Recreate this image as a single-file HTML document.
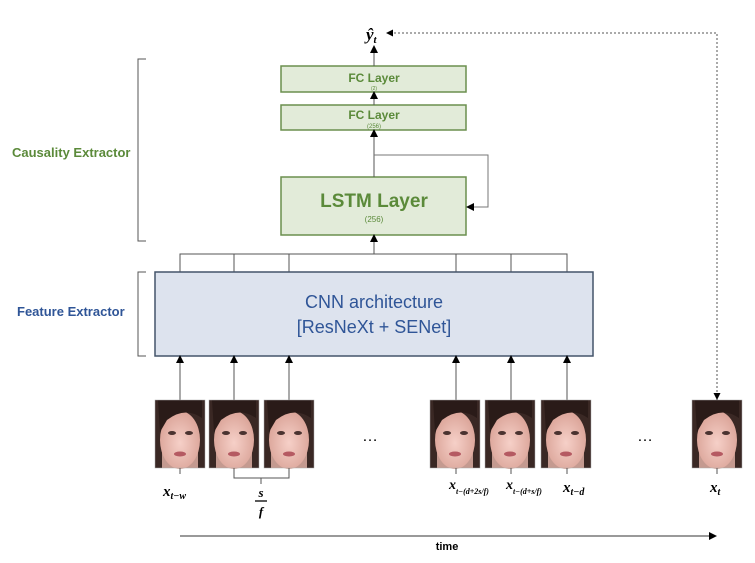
<!DOCTYPE html>
<html><head><meta charset="utf-8"><style>
body{margin:0;background:#fff;}
svg{display:block;font-family:"Liberation Sans",sans-serif;}
</style></head><body>
<svg width="755" height="563" viewBox="0 0 755 563" xmlns="http://www.w3.org/2000/svg">
<defs>
<marker id="ah" markerWidth="8" markerHeight="8" refX="7" refY="4" orient="auto" markerUnits="userSpaceOnUse"><path d="M0,0 L8,4 L0,8 z" fill="#000"/></marker>
<radialGradient id="skin" cx="50%" cy="55%" r="60%"><stop offset="0" stop-color="#f6d0c8"/><stop offset="1" stop-color="#d8a094"/></radialGradient>
<g id="face">
<rect x="0" y="0" width="50" height="68" fill="#c49a90"/>
<rect x="0" y="0" width="50" height="30" fill="#3a2824"/>
<rect x="0" y="0" width="7" height="68" fill="#3a2824"/>
<rect x="43" y="0" width="7" height="68" fill="#3a2824"/>
<ellipse cx="25" cy="40" rx="20" ry="29" fill="url(#skin)"/>
<path d="M3,0 H47 V18 Q30,6 12,20 L5,32 Z" fill="#2a1b18"/>
<ellipse cx="17" cy="33" rx="4" ry="2" fill="#4a3330"/>
<ellipse cx="34" cy="33" rx="4" ry="2" fill="#4a3330"/>
<ellipse cx="25" cy="54" rx="6" ry="2.5" fill="#b55a62"/>
<rect x="0" y="0" width="50" height="68" fill="none" stroke="#aaa" stroke-width="0.5"/>
</g>
</defs>
<path d="M146,59 H138 V241 H146" fill="none" stroke="#555" stroke-width="1"/>
<path d="M146,272 H138 V356 H146" fill="none" stroke="#555" stroke-width="1"/>
<text x="12" y="157" font-size="13" font-weight="bold" fill="#5b8a3a">Causality Extractor</text>
<text x="17" y="316" font-size="13" font-weight="bold" fill="#2f5597">Feature Extractor</text>
<text x="366" y="40" font-family="Liberation Serif,serif" font-size="17" font-weight="bold" font-style="italic">ŷ<tspan font-size="11" dy="3">t</tspan></text>
<rect x="281" y="66" width="185" height="26" fill="#e2ebd9" stroke="#6b8f4e" stroke-width="1.5"/>
<text x="374" y="82" font-size="12" font-weight="bold" fill="#5b8a3a" text-anchor="middle">FC Layer</text>
<text x="374" y="90" font-size="5" fill="#5b8a3a" text-anchor="middle">(2)</text>
<rect x="281" y="105" width="185" height="25" fill="#e2ebd9" stroke="#6b8f4e" stroke-width="1.5"/>
<text x="374" y="119" font-size="12" font-weight="bold" fill="#5b8a3a" text-anchor="middle">FC Layer</text>
<text x="374" y="128" font-size="6" fill="#5b8a3a" text-anchor="middle">(256)</text>
<rect x="281" y="177" width="185" height="58" fill="#e2ebd9" stroke="#6b8f4e" stroke-width="1.5"/>
<text x="374" y="207" font-size="19" font-weight="bold" fill="#5b8a3a" text-anchor="middle">LSTM Layer</text>
<text x="374" y="222" font-size="8" fill="#5b8a3a" text-anchor="middle">(256)</text>
<line x1="374" y1="66" x2="374" y2="46" stroke="#555" marker-end="url(#ah)"/>
<line x1="374" y1="105" x2="374" y2="92" stroke="#555" marker-end="url(#ah)"/>
<line x1="374" y1="177" x2="374" y2="130" stroke="#555" marker-end="url(#ah)"/>
<path d="M374,155 H488 V207 H467" fill="none" stroke="#777" marker-end="url(#ah)"/>
<line x1="374" y1="254" x2="374" y2="235" stroke="#555" marker-end="url(#ah)"/>
<path d="M180,272 V254 H567 V272 M234,254 V272 M289,254 V272 M456,254 V272 M511,254 V272" fill="none" stroke="#555"/>
<rect x="155" y="272" width="438" height="84" fill="#dde3ee" stroke="#44546a" stroke-width="1.5"/>
<text x="374" y="308" font-size="18" fill="#2f5597" text-anchor="middle">CNN architecture</text>
<text x="374" y="333" font-size="18" fill="#2f5597" text-anchor="middle">[ResNeXt + SENet]</text>
<g stroke="#555">
<line x1="180" y1="400" x2="180" y2="356" marker-end="url(#ah)"/>
<line x1="234" y1="400" x2="234" y2="356" marker-end="url(#ah)"/>
<line x1="289" y1="400" x2="289" y2="356" marker-end="url(#ah)"/>
<line x1="456" y1="400" x2="456" y2="356" marker-end="url(#ah)"/>
<line x1="511" y1="400" x2="511" y2="356" marker-end="url(#ah)"/>
<line x1="567" y1="400" x2="567" y2="356" marker-end="url(#ah)"/>
</g>
<use href="#face" x="155" y="400"/>
<use href="#face" x="209" y="400"/>
<use href="#face" x="264" y="400"/>
<use href="#face" x="430" y="400"/>
<use href="#face" x="485" y="400"/>
<use href="#face" x="541" y="400"/>
<use href="#face" x="692" y="400"/>
<text x="370" y="441" font-size="16" text-anchor="middle">…</text>
<text x="645" y="441" font-size="16" text-anchor="middle">…</text>
<g stroke="#555" fill="none">
<line x1="180" y1="468" x2="180" y2="474"/>
<path d="M234,468 V478 H289 V468 M261,478 V484"/>
<line x1="456" y1="468" x2="456" y2="474"/>
<line x1="511" y1="468" x2="511" y2="474"/>
<line x1="567" y1="468" x2="567" y2="474"/>
<line x1="717" y1="468" x2="717" y2="474"/>
</g>
<g font-family="Liberation Serif,serif" font-weight="bold" font-style="italic">
<text x="163" y="496" font-size="15">x<tspan font-size="10" dy="3">t−w</tspan></text>
<text x="261" y="497" font-size="13" text-anchor="middle">s</text>
<line x1="255" y1="501" x2="267" y2="501" stroke="#000" stroke-width="1.3"/>
<text x="261" y="516" font-size="13" text-anchor="middle">f</text>
<text x="449" y="489" font-size="14">x<tspan font-size="8" dy="5">t−(d+2s/f)</tspan></text>
<text x="506" y="489" font-size="14">x<tspan font-size="8" dy="5">t−(d+s/f)</tspan></text>
<text x="563" y="492" font-size="15">x<tspan font-size="10" dy="3">t−d</tspan></text>
<text x="710" y="492" font-size="15">x<tspan font-size="10" dy="3">t</tspan></text>
</g>
<path d="M717,400 V33 H392" fill="none" stroke="#555" stroke-dasharray="2,2"/>
<path d="M386,33 L393,29.5 L393,36.5 z" fill="#000"/>
<path d="M717,400 L713.5,393 L720.5,393 z" fill="#000"/>
<line x1="180" y1="536" x2="716" y2="536" stroke="#333" marker-end="url(#ah)"/>
<text x="447" y="550" font-size="11" font-weight="bold" text-anchor="middle">time</text>
</svg>
</body></html>
